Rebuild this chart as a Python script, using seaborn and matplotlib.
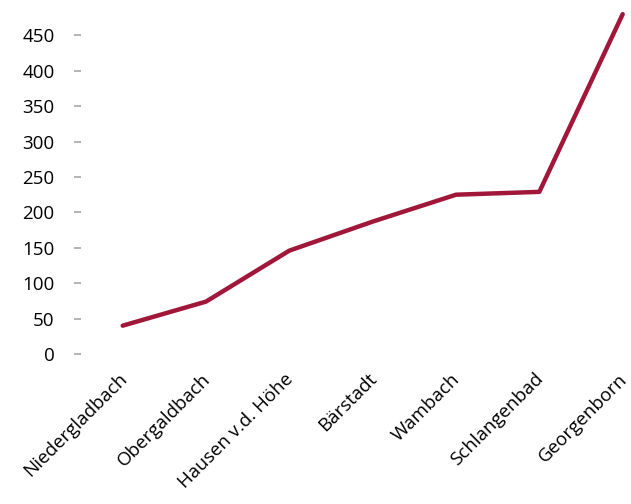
import matplotlib
matplotlib.use("Agg")
import matplotlib.pyplot as plt
import matplotlib.transforms as mtrans
import seaborn as sns
import pandas as pd

orte = ['Niedergladbach', 'Obergaldbach', 'Hausen v.d. Höhe', 'Bärstadt',
        'Wambach', 'Schlangenbad', 'Georgenborn']
werte = [40, 74, 146, 187, 225, 229, 480]

df = pd.DataFrame({'ort': orte, 'wert': werte, 'pos': range(len(orte))})

sns.set_style('white')
plt.rcParams['font.family'] = ['Open Sans', 'DejaVu Sans']
plt.rcParams['text.color'] = 'black'
plt.rcParams['xtick.color'] = 'black'
plt.rcParams['ytick.color'] = 'black'

fig = plt.figure(figsize=(6.31, 5.04), dpi=100)
ax = fig.add_axes([81 / 631, 150 / 504, 1 - 81 / 631, 354 / 504])

sns.lineplot(data=df, x='pos', y='wert', ax=ax, color='#A0173A', lw=3.2,
             clip_on=False)

ax.set_xlim(-0.5, 6.1)
ax.set_ylim(0, 500)
ax.set_yticks(range(0, 451, 50))
ax.set_xticks(df['pos'])
ax.set_xticklabels(orte, rotation=45, ha='right', rotation_mode='anchor',
                   fontsize=13.5, color='black')
ax.tick_params(axis='y', left=True, length=5, width=1.2, color='#A6A6A6',
               pad=14, labelsize=13.5, labelcolor='black')
ax.tick_params(axis='x', bottom=False, pad=8)

# Beschriftungen etwas nach links schieben, damit "Georgenborn" passt
verschub = mtrans.ScaledTranslation(-5 / 100, 0, fig.dpi_scale_trans)
for lab in ax.get_xticklabels():
    lab.set_transform(lab.get_transform() + verschub)

ax.set_xlabel('')
ax.set_ylabel('')
sns.despine(ax=ax, left=True, bottom=True)

fig.savefig('out.png', dpi=100)
